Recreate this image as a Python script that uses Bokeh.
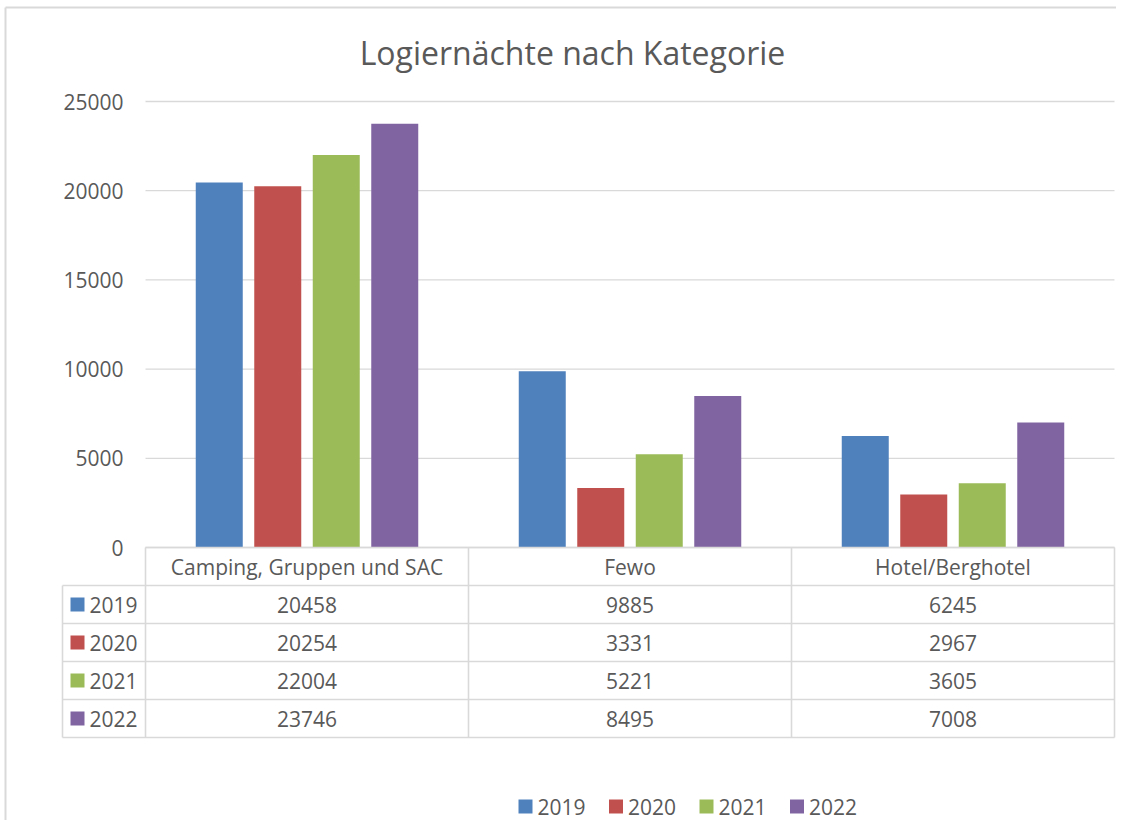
from bokeh.plotting import figure
from bokeh.models import Range1d, ColumnDataSource
from bokeh.core.properties import value
from bokeh.embed import file_html
from bokeh.resources import INLINE

# ---- data ----
categories = ["Camping, Gruppen und SAC", "Fewo", "Hotel/Berghotel"]
years = ["2019", "2020", "2021", "2022"]
v2019 = [20458, 9885, 6245]
v2020 = [20254, 3331, 2967]
v2021 = [22004, 5221, 3605]
v2022 = [23746, 8495, 7008]
series = [v2019, v2020, v2021, v2022]
colors = ["#4f81bd", "#c0504d", "#9bbb59", "#8064a2"]
y_ticks = [0, 5000, 10000, 15000, 20000, 25000]
title = "Logiernächte nach Kategorie"

# ---- layout (pixels) ----
W, H = 1116, 820
X0, CW = 145, 323          # plot-area left and category width
Y0, YPX = 547, 446         # pixel row of value 0, pixels for 25000
YMAX = 25000
ROW_H = 38
KEY_W = 83
FONT = value("Open Sans")
TXT = "#595959"
LINE = "#d9d9d9"

x_range = Range1d(-X0 / CW, (W - X0) / CW)
y_range = Range1d((Y0 - H) / YPX * YMAX, Y0 / YPX * YMAX)

p = figure(width=W, height=H, x_range=x_range, y_range=y_range,
           output_backend="svg", toolbar_location=None, min_border=0,
           x_axis_type=None, y_axis_type=None)
p.extra_x_ranges = {"px": Range1d(0, W)}
p.extra_y_ranges = {"px": Range1d(H, 0)}
p.grid.visible = False
p.outline_line_color = None
p.background_fill_color = "white"
p.border_fill_color = "white"

ncat = len(categories)
nser = len(series)

# chart border (left and top)
p.multi_line(xs=[[5, 5], [5, W + 20]], ys=[[7, H + 20], [7, 7]], x_range_name="px",
             y_range_name="px", line_color=LINE, line_width=2)

# title
p.text(x=[572], y=[52], text=[title], x_range_name="px", y_range_name="px",
       text_font=FONT, text_font_size="32px", text_color=TXT,
       text_align="center", text_baseline="middle")

# gridlines
p.segment(x0=[0] * len(y_ticks), x1=[ncat] * len(y_ticks), y0=y_ticks, y1=y_ticks,
          line_color=LINE, line_width=1.3)

# y tick labels
p.text(x=[-22 / CW] * len(y_ticks), y=y_ticks, text=[str(t) for t in y_ticks],
       text_font=FONT, text_font_size="21px", text_color=TXT,
       text_align="right", text_baseline="middle")

# bars
slot = 58.5 / CW
bw = 47 / CW
for s, (vals, col) in enumerate(zip(series, colors)):
    xs = [c + 0.5 + (s - (nser - 1) / 2) * slot for c in range(ncat)]
    src = ColumnDataSource(dict(x=xs, top=vals))
    p.vbar(x="x", top="top", bottom=0, width=bw, source=src,
           fill_color=col, line_color=None)

# data table lines
kx = -KEY_W / CW
rows = nser + 1
hx0, hx1, hy = [], [], []
for i in range(rows + 1):
    hy.append(Y0 + ROW_H * i)
    hx0.append(0 if i == 0 else kx)
    hx1.append(ncat)
p.segment(x0=hx0, x1=hx1, y0=hy, y1=hy, y_range_name="px", line_color=LINE, line_width=1.6)
vx = [kx] + list(range(ncat + 1))
vy0 = [Y0 + ROW_H] + [Y0] * (ncat + 1)
vy1 = [Y0 + ROW_H * rows] * len(vx)
p.segment(x0=vx, x1=vx, y0=vy0, y1=vy1, y_range_name="px", line_color=LINE, line_width=1.6)

# header texts
p.text(x=[c + 0.5 for c in range(ncat)], y=[Y0 + ROW_H / 2] * ncat, text=categories,
       y_range_name="px", text_font=FONT, text_font_size="21px", text_color=TXT,
       text_align="center", text_baseline="middle")
# values
tx, ty, tt = [], [], []
for s, vals in enumerate(series):
    for c in range(ncat):
        tx.append(c + 0.5)
        ty.append(Y0 + ROW_H * (s + 1) + ROW_H / 2)
        tt.append(str(vals[c]))
p.text(x=tx, y=ty, text=tt, y_range_name="px", text_font=FONT, text_font_size="21px",
       text_color=TXT, text_align="center", text_baseline="middle")
# key column
ky = [Y0 + ROW_H * (s + 1) + ROW_H / 2 for s in range(nser)]
p.scatter(x=[77] * nser, y=ky, marker="square", size=14, fill_color=colors,
          line_color=None, x_range_name="px", y_range_name="px")
p.text(x=[89] * nser, y=ky, text=years, x_range_name="px", y_range_name="px",
       text_font=FONT, text_font_size="21px", text_color=TXT,
       text_align="left", text_baseline="middle")

# bottom legend
LX, LSTEP, LY = 525, 90.5, 806
lx = [LX + LSTEP * s for s in range(nser)]
p.scatter(x=lx, y=[LY] * nser, marker="square", size=14, fill_color=colors,
          line_color=None, x_range_name="px", y_range_name="px")
p.text(x=[x + 12 for x in lx], y=[LY] * nser, text=years, x_range_name="px", y_range_name="px",
       text_font=FONT, text_font_size="21px", text_color=TXT,
       text_align="left", text_baseline="middle")

open("out.html", "w").write(file_html(p, INLINE))
